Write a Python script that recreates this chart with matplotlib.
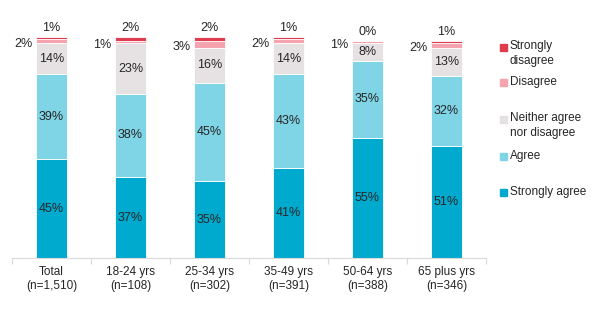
import matplotlib
matplotlib.use('Agg')
import matplotlib.pyplot as plt
from matplotlib.patches import Rectangle
import numpy as np

# Data
categories = ['Total\n(n=1,510)', '18-24 yrs\n(n=108)', '25-34 yrs\n(n=302)',
              '35-49 yrs\n(n=391)', '50-64 yrs\n(n=388)', '65 plus yrs\n(n=346)']
series_names = ['Strongly agree', 'Agree', 'Neither agree\nnor disagree',
                'Disagree', 'Strongly\ndisagree']
strongly_agree = [45, 37, 35, 41, 55, 51]
agree = [39, 38, 45, 43, 35, 32]
neither = [14, 23, 16, 14, 8, 13]
disagree = [2, 1, 3, 2, 1, 2]
strongly_disagree = [1, 2, 2, 1, 0, 1]

colors = ['#00A9CE', '#7FD4E6', '#E6E1E3', '#F4A3AF', '#E03C50']

plt.rcParams['font.family'] = ['Liberation Sans', 'DejaVu Sans']
text_color = '#262626'

fig = plt.figure(figsize=(6, 3.25), dpi=100)
ax = fig.add_axes([0.02, 0.206, 0.79, 0.674])

series = [strongly_agree, agree, neither, disagree, strongly_disagree]
x = np.arange(len(categories))
width = 0.40
bottom = np.zeros(len(categories))

for i, vals in enumerate(series):
    vals = np.array(vals, dtype=float)
    ax.bar(x, vals, width, bottom=bottom, color=colors[i],
           edgecolor='white', linewidth=0.6, clip_on=False)
    for j, v in enumerate(vals):
        if i <= 2:
            ax.text(x[j], bottom[j] + v / 2, f'{v:.0f}%', ha='center',
                    va='center', fontsize=9, color=text_color)
        elif i == 3:
            # disagree label to the left of the bar
            ax.text(x[j] - width / 2 - 0.04, bottom[j] + v / 2 - 1.2, f'{v:.0f}%',
                    ha='right', va='center', fontsize=9, color=text_color)
        else:
            # strongly disagree label above the bar
            ax.text(x[j], bottom[j] + v + 1.5, f'{v:.0f}%', ha='center',
                    va='bottom', fontsize=9, color=text_color)
    bottom += vals

ax.set_xlim(-0.5, len(categories) - 0.5)
ax.set_ylim(0, 100)
ax.set_yticks([])
ax.set_xticks(x)
ax.set_xticklabels(categories, fontsize=8.5, color=text_color)
ax.set_xticks(np.arange(len(categories) + 1) - 0.5, minor=True)
ax.tick_params(axis='x', which='major', length=0, pad=6)
ax.tick_params(axis='x', which='minor', length=4, color='#D9D9D9', width=0.8)
for s in ['top', 'right', 'left']:
    ax.spines[s].set_visible(False)
ax.spines['bottom'].set_color('#D9D9D9')
ax.spines['bottom'].set_linewidth(0.8)

# Legend (Excel style, marker aligned with first line)
legend_y = [193, 156, 119, 83, 47]
for i in range(len(series_names) - 1, -1, -1):
    yf = 1 - legend_y[i] / 325
    fig.patches.append(Rectangle((500 / 600, yf - 3.5 / 325), 7 / 600, 7 / 325,
                                 transform=fig.transFigure, color=colors[i]))
    fig.text(510 / 600, yf + 6.5 / 325, series_names[i], fontsize=8.5,
             color=text_color, va='top', ha='left', linespacing=1.3)

fig.savefig('out.png', dpi=100)
